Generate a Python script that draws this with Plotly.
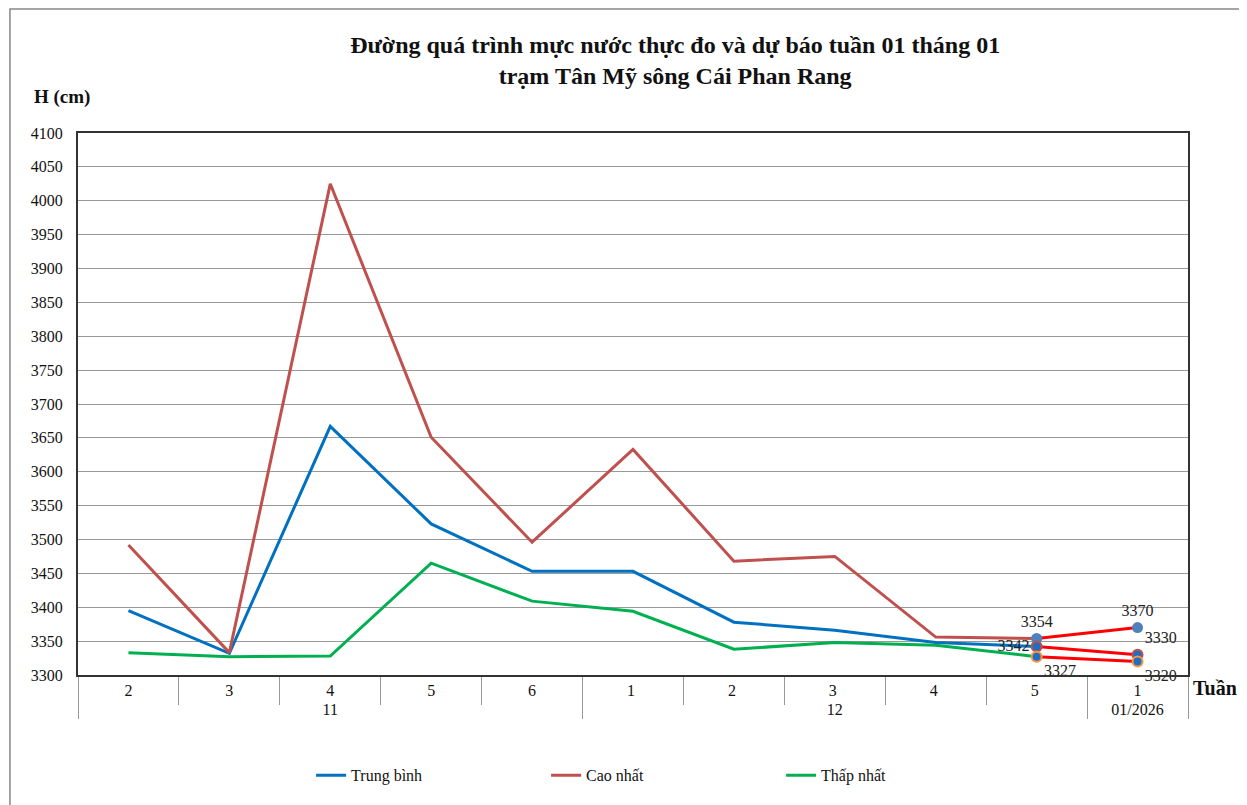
import plotly.graph_objects as go

months = ["11", "11", "11", "11", "11", "12", "12", "12", "12", "12"]
weeks = ["2", "3", "4", "5", "6", "1", "2", "3", "4", "5"]
fc_months = ["12", "01/2026"]
fc_weeks = ["5", "1"]

trung_binh = [3395, 3332, 3667, 3523, 3453, 3453, 3378, 3366, 3348, 3342]
cao_nhat = [3492, 3333, 4025, 3651, 3496, 3633, 3468, 3475, 3356, 3354]
thap_nhat = [3333, 3327, 3328, 3465, 3409, 3394, 3338, 3348, 3344, 3327]

fc_max = [3354, 3370]
fc_avg = [3342, 3330]
fc_min = [3327, 3320]


def week_keys(ms, ws):
    # December weeks get a trailing space so that Plotly keeps each month's weeks in order
    return [w + " " if m == "12" else w for m, w in zip(ms, ws)]


x_obs = [months, week_keys(months, weeks)]
x_fc = [fc_months, week_keys(fc_months, fc_weeks)]

font_family = "Liberation Serif"
label_font = dict(family=font_family, size=16, color="#222")

fig = go.Figure()

fig.add_trace(go.Scatter(x=x_obs, y=trung_binh, mode="lines", name="Trung bình",
                         line=dict(color="#0070C0", width=3)))
fig.add_trace(go.Scatter(x=x_obs, y=cao_nhat, mode="lines", name="Cao nhất",
                         line=dict(color="#C0504D", width=3)))
fig.add_trace(go.Scatter(x=x_obs, y=thap_nhat, mode="lines", name="Thấp nhất",
                         line=dict(color="#00B050", width=3)))

fig.add_trace(go.Scatter(x=x_fc, y=fc_max, mode="lines+markers+text", cliponaxis=False,
                         showlegend=False, line=dict(color="#FF0000", width=3),
                         marker=dict(size=11, color="#4F81BD"),
                         text=[str(v) for v in fc_max], textposition=["top center", "top center"],
                         textfont=label_font))
fig.add_trace(go.Scatter(x=x_fc, y=fc_avg, mode="lines+markers+text", cliponaxis=False,
                         showlegend=False, line=dict(color="#FF0000", width=3),
                         marker=dict(size=10, color="#1F6FC0", line=dict(color="#C0504D", width=2)),
                         text=[str(v) for v in fc_avg], textposition=["middle left", "top right"],
                         textfont=label_font))
fig.add_trace(go.Scatter(x=x_fc, y=fc_min, mode="lines+markers+text", cliponaxis=False,
                         showlegend=False, line=dict(color="#FF0000", width=3),
                         marker=dict(size=10, color="#1F6FC0", line=dict(color="#F79646", width=2)),
                         text=[str(v) for v in fc_min], textposition=["bottom right", "bottom right"],
                         textfont=label_font))

fig.update_layout(
    width=1247, height=805,
    margin=dict(l=70, r=67, t=125, b=138),
    paper_bgcolor="white", plot_bgcolor="white",
    font=dict(family=font_family, size=16, color="#111"),
    title=dict(text="<b>Đường quá trình mực nước thực đo và dự báo tuần 01 tháng 01<br>trạm Tân Mỹ sông Cái Phan Rang</b>",
               x=0.535, xanchor="center", y=0.9445, yanchor="top",
               font=dict(family=font_family, size=24, color="#111")),
    legend=dict(orientation="h", x=0.21, xanchor="left", y=-0.185, yanchor="middle",
                font=dict(family=font_family, size=16), itemwidth=30,
                entrywidthmode="pixels", entrywidth=190),
    showlegend=True,
)

fig.update_xaxes(type="multicategory", range=[-0.5, 10.5], showgrid=False, showline=True,
                 linecolor="#333", linewidth=2, mirror=True, ticks="outside",
                 tickson="boundaries", ticklen=28, tickcolor="#999",
                 showdividers=True, dividercolor="#999", dividerwidth=1,
                 tickfont=dict(family=font_family, size=16))
fig.update_yaxes(range=[3300, 4100], dtick=50, showgrid=True, gridcolor="#999", gridwidth=1,
                 showline=True, linecolor="#333", linewidth=2, mirror=True, ticks="",
                 ticklabelstandoff=10,
                 tickfont=dict(family=font_family, size=16), zeroline=False)

fig.add_annotation(text="<b>H (cm)</b>", xref="paper", yref="paper", x=-0.0144, y=1.066,
                   xanchor="center", yanchor="middle", showarrow=False,
                   font=dict(family=font_family, size=19))
fig.add_annotation(text="<b>Tuần</b>", xref="paper", yref="paper", x=1.024, y=-0.024,
                   xanchor="center", yanchor="middle", showarrow=False,
                   font=dict(family=font_family, size=20))

fig.add_shape(type="rect", xref="paper", yref="paper", x0=-0.0613, x1=1.0523, y0=-0.26, y1=1.2288,
              line=dict(color="#888", width=1.5), fillcolor="rgba(0,0,0,0)", layer="below")

fig.write_html("out.html")
